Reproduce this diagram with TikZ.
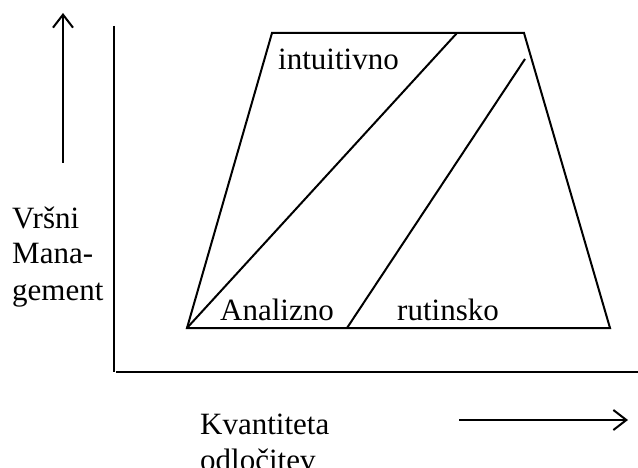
\documentclass[tikz,border=0pt]{standalone}
\usepackage{fontspec}
\setmainfont{Liberation Serif}
\usetikzlibrary{arrows.meta, positioning}

\begin{document}
\begin{tikzpicture}[
  x=1pt, y=-1pt,
  line/.style={draw, line width=2pt},
  pointer/.style={draw, line width=2pt, -{Straight Barb[length=13pt, width=20pt, line width=2pt]}},
  lbl/.style={font=\fontsize{31}{36}\selectfont, inner sep=0pt, align=left}
]
\useasboundingbox (0,0) rectangle (638,468);
% trapezoid corners
\coordinate (tl) at (272,33);
\coordinate (tr) at (524,33);
\coordinate (br) at (610,328);
\coordinate (bl) at (187,328);
\coordinate (cut) at (457,33);
\coordinate (rb) at (347,328);
\coordinate (rt) at (525,59);
\draw[line, line join=miter] (tl) -- (tr) -- (br) -- (bl) -- cycle;
\draw[line] (bl) -- (cut);
\draw[line] (rb) -- (rt);
% axes
\coordinate (ytop) at (114,26);
\coordinate (ybot) at (114,372);
\coordinate (xleft) at (116,372);
\coordinate (xright) at (638,372);
\draw[line] (ytop) -- (ybot);
\draw[line] (xleft) -- (xright);
% arrows
\coordinate (upfrom) at (63,163);
\coordinate (upto) at (63,13);
\coordinate (rfrom) at (459,420);
\coordinate (rto) at (628,420);
\draw[pointer] (upfrom) -- (upto);
\draw[pointer] (rfrom) -- (rto);
% labels
\node[lbl, anchor=base west] (intu) at (278,70) {intuitivno};
\node[lbl, anchor=base west] (anal) at (220,320) {Analizno};
\node[lbl, anchor=base west] (rut) at (397,320) {rutinsko};
\node[lbl, anchor=base west] (top) at (12,300) {Vršni\\Mana-\\gement};
\node[lbl, anchor=base west] (kval) at (200,470) {Kvantiteta\\odločitev};
\end{tikzpicture}
\end{document}
